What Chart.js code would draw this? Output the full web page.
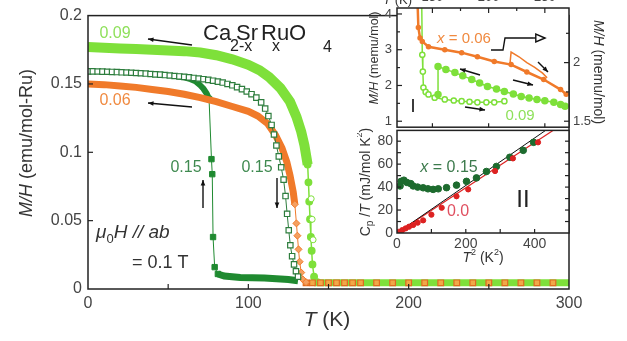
<!DOCTYPE html>
<html>
<head>
<meta charset="utf-8">
<script src="https://cdn.jsdelivr.net/npm/chart.js@4/dist/chart.umd.min.js"></script>
<style>
html, body { margin: 0; padding: 0; background: #fff; overflow: hidden; width: 627px; height: 341px; }
canvas { position: absolute; }
</style>
</head>
<body>
<canvas id="main" width="627" height="341" style="left:0;top:0"></canvas>
<canvas id="ins1" width="270" height="162" style="left:357px;top:-22px"></canvas>
<canvas id="ins2" width="270" height="155" style="left:357px;top:118px"></canvas>
<script>
// ---- main panel: M/H (emu/mol-Ru) vs T (K) ----
// x = 0.09
var t09 = [0,10,20,30,40,50,60,70,80,90,100,107,113,120,126,130,133,135,137];
var m09 = [0.177,0.1765,0.176,0.1755,0.175,0.1745,0.174,0.173,0.171,0.168,0.164,0.160,0.155,0.147,0.137,0.126,0.115,0.105,0.091];
var t09drop = [137,137.5,138,138.5,139,139.5,140,141,143];
var m09drop = [0.091,0.078,0.064,0.051,0.038,0.028,0.018,0.009,0.005];
var t09open = [139.2,139.8,140.4];
var m09open = [0.066,0.051,0.036];
var t09base = [141,150,175,200,225,250,275,300];
var m09base = [0.0045,0.0045,0.0045,0.0045,0.0045,0.0045,0.0045,0.0045];
// x = 0.06
var t06 = [0,10,20,30,40,50,60,70,80,90,100,106,112,117,121,124,126,128,129];
var m06 = [0.150,0.1495,0.1485,0.1475,0.146,0.1445,0.1425,0.140,0.137,0.1335,0.130,0.1265,0.121,0.1125,0.103,0.093,0.083,0.071,0.062];
var t06drop = [129,130,130.6,131.3,132,133,134,136];
var m06drop = [0.062,0.048,0.039,0.029,0.020,0.012,0.007,0.005];
var t06base = [136,140,145,150,155,160,165,170,180,190,200,210,220,230,240,250,260,270,280,290];
var m06base = [0.0045,0.0045,0.0045,0.0045,0.0045,0.0045,0.0045,0.0045,0.0045,0.0045,0.0045,0.0045,0.0045,0.0045,0.0045,0.0045,0.0045,0.0045,0.0045,0.0045];
// x = 0.15 warming (open squares)
var t15h = [0,3,6,9,12,15,18,21,24,27,30,33,36,39,42,45,48,51,54,57,60,63,66,69,72,75,78,81,84,87,90,93,96,99,102,105,108,110.5,112.5,114.5,116,117.5,119,120.5,122,123.2,124.2,125.2,126.2,127.3,128.5,129.7,131];
var m15h = [0.1592,0.1592,0.1591,0.159,0.1589,0.1588,0.1587,0.1585,0.1584,0.1582,0.158,0.1578,0.1576,0.1573,0.157,0.1568,0.1565,0.1562,0.1558,0.1555,0.1552,0.1548,0.1544,0.154,0.1535,0.153,0.1524,0.1517,0.151,0.150,0.149,0.1477,0.1462,0.1445,0.1425,0.140,0.1365,0.132,0.1265,0.120,0.113,0.105,0.097,0.089,0.080,0.068,0.055,0.043,0.032,0.024,0.018,0.013,0.009];
// x = 0.15 cooling (filled squares)
var t15c = [56,60,64,67,70,72,74,75.5];
var m15c = [0.1555,0.1548,0.1535,0.152,0.149,0.1465,0.143,0.139];
var t15drop = [75.5,77,77.5,78,79,81];
var m15drop = [0.139,0.095,0.084,0.038,0.016,0.011];
var t15base = [81,85,95,110,125,131];
var m15base = [0.011,0.0095,0.0085,0.008,0.007,0.006];

// ---- inset I: M/H (memu/mol) vs T (K) ----
var tI06 = [136.5,137.5,139,141,146.5,161,176,190,205,220,234,249,264,269];
var mI06 = [2.6,2.3,2.21,2.18,2.135,2.11,2.085,2.05,2.01,1.983,1.92,1.856,1.77,1.73];
var tI06loop = [219,220,227,234,241,248,252];
var mI06loop = [1.99,2.09,2.05,2.0,1.96,1.91,1.87];
var tI09w = [140.5,141,141.5,142,144,146.5,152,161,169,176,183,190,198,205,214];
var mI09w = [4.3,2.86,2.39,1.94,1.82,1.75,1.66,1.61,1.58,1.56,1.545,1.53,1.53,1.53,1.56];
var tI09c = [155,155,162,170,177,185,192,199,207,214,222,229,236,243,250,258,264,268];
var mI09c = [1.75,2.53,2.45,2.36,2.27,2.17,2.07,1.97,1.9,1.83,1.76,1.69,1.65,1.61,1.57,1.53,1.47,1.42];

// ---- inset II: Cp/T (mJ/mol K^2) vs T^2 (K^2) ----
var t2x0 = [5,15,25,35,47,60,76,100,130,173,207,285,337,410];
var c0 = [1,2.5,4,5.5,7,9,11,16,22,32,38,54,65,79];
var t2x15 = [9,12,20,29,40,47,60,76,90,105,120,144,173,202,231,260,289,328,367,397];
var c15 = [41,45,46,44,43,41,40,39.4,38.5,38,38.5,39.5,41.7,45,48,53.6,58,66,72,79];
var fitT2 = [0,500];
var fitBlack = [0,103.5];
var fitRed = [0,98.5];

var LG = '#7ee03a', OR = '#f07a2a', DG = '#1f8a30', RED = '#dd2222';
var FAM = '"Liberation Sans", Arial, sans-serif';

function pts(xs, ys) { return xs.map(function (x, i) { return { x: x, y: ys[i] }; }); }
function ds(xs, ys, o) {
  return Object.assign({ data: pts(xs, ys), showLine: true, borderWidth: 1, pointRadius: 0, fill: false }, o);
}

// page offsets of each canvas, inward ticks and annotations (page pixels)
var off = { main: [0, 0], ins1: [357, -22], ins2: [357, 118] };
var inTicks = {
  main: [
    { ax: 'x', side: 'bottom', v: [50,100,150,200,250], len: 5 },
    { ax: 'y', side: 'left', v: [0.05,0.1,0.15], len: 5 }
  ],
  ins1: [
    { ax: 'x', side: 'top', v: [150,200,250], len: 5 },
    { ax: 'x', side: 'top', v: [175,225], len: 3 },
    { ax: 'x', side: 'bottom', v: [150,200,250], len: 4 },
    { ax: 'y', side: 'left', v: [1,2,3,4], len: 5 },
    { ax: 'y', side: 'left', v: [1.5,2.5,3.5], len: 3 },
    { ax: 'y2', side: 'right', v: [1.5,2], len: 5 },
    { ax: 'y2', side: 'right', v: [1.75,2.25], len: 3 }
  ],
  ins2: [
    { ax: 'x', side: 'bottom', v: [100,200,300,400], len: 4 },
    { ax: 'y', side: 'left', v: [10,20,30,40,50,60,70,80], len: 4 },
    { ax: 'y', side: 'right', v: [10,20,30,40,50,60,70,80], len: 4 }
  ]
};
var notes = {
  main: [
    { x: 27, y: 143, rot: -90, size: 18, base: 'middle', parts: [{ t: 'M/H', i: 1 }, { t: ' (emu/mol-Ru)' }] },
    { x: 327, y: 326, size: 21, parts: [{ t: 'T', i: 1 }, { t: ' (K)' }] },
    { x: 203, y: 40, align: 'left', size: 22, color: '#222', parts: [{ t: 'Ca' }] },
    { x: 230, y: 51, align: 'left', size: 16, color: '#222', parts: [{ t: '2-x' }] },
    { x: 236, y: 40, align: 'left', size: 22, color: '#222', parts: [{ t: 'Sr' }] },
    { x: 272, y: 51, align: 'left', size: 16, color: '#222', parts: [{ t: 'x' }] },
    { x: 261, y: 40, align: 'left', size: 22, color: '#222', parts: [{ t: 'RuO' }] },
    { x: 323, y: 52, align: 'left', size: 16, color: '#222', parts: [{ t: '4' }] },
    { x: 115, y: 38, size: 16, color: '#8ee05a', parts: [{ t: '0.09' }] },
    { x: 115, y: 105, size: 16, color: '#f08a40', parts: [{ t: '0.06' }] },
    { x: 186, y: 172, size: 16, color: '#3f8a50', parts: [{ t: '0.15' }] },
    { x: 257, y: 172, size: 16, color: '#3f8a50', parts: [{ t: '0.15' }] },
    { x: 96, y: 238, align: 'left', size: 19, parts: [{ t: '\u03bc', i: 1 }, { t: '0', sz: 13, dy: 5 }, { t: 'H // ab', i: 1 }] },
    { x: 132, y: 268, align: 'left', size: 18, parts: [{ t: '= 0.1 T' }] }
  ],
  ins1: [
    { x: 375, y: 58, rot: -90, size: 12.5, base: 'middle', parts: [{ t: 'M/H', i: 1 }, { t: ' (memu/mol)' }] },
    { x: 598, y: 72, rot: 90, size: 14, base: 'middle', parts: [{ t: 'M/H', i: 1 }, { t: ' (memu/mol)' }] },
    { x: 412, y: 4, align: 'right', size: 13, parts: [{ t: 'T', i: 1 }, { t: ' (K)' }] },
    { x: 464, y: 43, size: 15, color: '#f08a40', parts: [{ t: 'x', i: 1 }, { t: ' = 0.06' }] },
    { x: 520, y: 120, size: 15, color: '#8ee05a', parts: [{ t: '0.09' }] },
    { x: 413, y: 112, size: 18, color: '#111', parts: [{ t: 'I' }] }
  ],
  ins2: [
    { x: 366, y: 182, rot: -90, size: 14, base: 'middle', parts: [{ t: 'C' }, { t: 'p', sz: 10, dy: 4 }, { t: ' /' }, { t: 'T', i: 1 }, { t: ' (mJ/mol K' }, { t: '2', sz: 9, dy: -6 }, { t: ')' }] },
    { x: 483, y: 262, size: 14, parts: [{ t: 'T', i: 1 }, { t: '2', sz: 9, dy: -7 }, { t: ' (K' }, { t: '2', sz: 9, dy: -7 }, { t: ')' }] },
    { x: 449, y: 172, size: 16, color: '#3c7a4c', parts: [{ t: 'x', i: 1 }, { t: ' = 0.15' }] },
    { x: 458, y: 216, size: 16, color: '#e05060', parts: [{ t: '0.0' }] },
    { x: 523, y: 207, size: 24, color: '#222', parts: [{ t: 'II' }] }
  ]
};
var arrows = {
  main: [
    { a: [192,45,148,39] }, { a: [192,107,148,103] },
    { a: [203,208,203,180] }, { a: [277,178,277,208] }
  ],
  ins1: [
    { a: [480,75,460,69] }, { a: [513,80,533,85] },
    { a: [538,62,548,72] }, { a: [465,107,485,110] },
    { path: [[491,50],[503,50],[505,38],[533,38]], hollow: [533,38,545,38] }
  ],
  ins2: []
};

function drawRich(ctx, n) {
  var size = n.size || 14, w = 0;
  n.parts.forEach(function (p) {
    ctx.font = (p.i ? 'italic ' : '') + (p.sz || size) + 'px ' + FAM;
    p.w = ctx.measureText(p.t).width; w += p.w;
  });
  ctx.save();
  ctx.translate(n.x, n.y);
  if (n.rot) ctx.rotate(n.rot * Math.PI / 180);
  ctx.textBaseline = n.base || 'alphabetic';
  ctx.fillStyle = n.color || '#333';
  var x = n.align === 'left' ? 0 : (n.align === 'right' ? -w : -w / 2);
  n.parts.forEach(function (p) {
    ctx.font = (p.i ? 'italic ' : '') + (p.sz || size) + 'px ' + FAM;
    ctx.fillText(p.t, x, p.dy || 0); x += p.w;
  });
  ctx.restore();
}
function head(ctx, x1, y1, x2, y2, s, hollow) {
  var ang = Math.atan2(y2 - y1, x2 - x1);
  ctx.beginPath();
  ctx.moveTo(x2, y2);
  ctx.lineTo(x2 - s * Math.cos(ang - 0.4), y2 - s * Math.sin(ang - 0.4));
  ctx.lineTo(x2 - s * Math.cos(ang + 0.4), y2 - s * Math.sin(ang + 0.4));
  ctx.closePath();
  if (hollow) { ctx.fillStyle = '#fff'; ctx.fill(); ctx.stroke(); } else ctx.fill();
}

var deco = {
  id: 'deco',
  beforeDatasetsDraw: function (chart) {
    if (chart.canvas.id === 'main') return;
    var a = chart.chartArea, ctx = chart.ctx;
    ctx.save(); ctx.fillStyle = '#fff';
    ctx.fillRect(a.left, a.top, a.right - a.left, a.bottom - a.top);
    ctx.restore();
  },
  afterDraw: function (chart) {
    var id = chart.canvas.id, a = chart.chartArea, ctx = chart.ctx, o = off[id];
    ctx.save();
    ctx.strokeStyle = '#222'; ctx.lineWidth = 1.5;
    ctx.strokeRect(a.left, a.top, a.right - a.left, a.bottom - a.top);
    ctx.lineWidth = 1.2;
    inTicks[id].forEach(function (t) {
      var sc = chart.scales[t.ax];
      t.v.forEach(function (v) {
        var p = sc.getPixelForValue(v);
        ctx.beginPath();
        if (t.side === 'bottom') { ctx.moveTo(p, a.bottom); ctx.lineTo(p, a.bottom - t.len); }
        if (t.side === 'top') { ctx.moveTo(p, a.top); ctx.lineTo(p, a.top + t.len); }
        if (t.side === 'left') { ctx.moveTo(a.left, p); ctx.lineTo(a.left + t.len, p); }
        if (t.side === 'right') { ctx.moveTo(a.right, p); ctx.lineTo(a.right - t.len, p); }
        ctx.stroke();
      });
    });
    ctx.translate(-o[0], -o[1]);
    ctx.strokeStyle = '#111'; ctx.fillStyle = '#111'; ctx.lineWidth = 1.4;
    arrows[id].forEach(function (r) {
      if (r.a) {
        ctx.beginPath(); ctx.moveTo(r.a[0], r.a[1]); ctx.lineTo(r.a[2], r.a[3]); ctx.stroke();
        head(ctx, r.a[0], r.a[1], r.a[2], r.a[3], 6);
      }
      if (r.path) {
        ctx.beginPath();
        r.path.forEach(function (q, i) { if (i) ctx.lineTo(q[0], q[1]); else ctx.moveTo(q[0], q[1]); });
        ctx.stroke();
        ctx.beginPath(); ctx.moveTo(r.hollow[0], r.hollow[1]); ctx.lineTo(r.hollow[2], r.hollow[3]); ctx.stroke();
        head(ctx, r.hollow[0], r.hollow[1], r.hollow[2], r.hollow[3], 10, true);
      }
    });
    notes[id].forEach(function (n) { drawRich(ctx, n); });
    ctx.restore();
  }
};

function tickFont(s) { return { family: FAM, size: s }; }
function fmt(v) { return String(+v.toFixed(2)); }
function opts(extra) {
  return Object.assign({
    responsive: false, animation: false, events: [],
    plugins: { legend: { display: false }, tooltip: { enabled: false } }
  }, extra);
}
var noGrid = { display: false, drawTicks: false };

new Chart(document.getElementById('main'), {
  type: 'scatter', plugins: [deco],
  data: {
    datasets: [
      ds(t15h, m15h, { borderColor: '#2d7d3d', pointStyle: 'rect', pointRadius: 3.8, pointBorderWidth: 1.2, pointBorderColor: '#2d7d3d', pointBackgroundColor: '#fff', order: 1 }),
      ds(t06drop, m06drop, { borderColor: OR, pointStyle: 'rectRot', pointRadius: 3.5, pointBorderColor: OR, pointBackgroundColor: '#f5a060', order: 2 }),
      ds(t06base, m06base, { showLine: false, pointStyle: 'rect', pointRadius: 4, pointBorderWidth: 1.2, pointBorderColor: '#e06a20', pointBackgroundColor: '#f0a848', order: 2 }),
      ds(t06, m06, { borderColor: OR, borderWidth: 7, order: 3 }),
      ds(t15drop, m15drop, { borderColor: DG, pointStyle: 'rect', pointRadius: 3.8, pointBorderColor: DG, pointBackgroundColor: DG, order: 4 }),
      ds(t15c, m15c, { borderColor: DG, borderWidth: 6, order: 4 }),
      ds(t15base, m15base, { borderColor: DG, borderWidth: 7, order: 4 }),
      ds(t09open, m09open, { borderColor: LG, pointRadius: 3, pointBorderColor: LG, pointBackgroundColor: '#fff', showLine: false, order: 5 }),
      ds(t09drop, m09drop, { borderColor: LG, borderWidth: 1.5, pointRadius: 3.2, pointBorderColor: LG, pointBackgroundColor: LG, order: 6 }),
      ds(t09, m09, { borderColor: LG, borderWidth: 10, order: 7 }),
      ds(t09base, m09base, { borderColor: LG, borderWidth: 7, order: 8 })
    ]
  },
  options: opts({
    layout: { padding: { left: 0, top: 13, right: 58, bottom: 0 } },
    scales: {
      x: { min: 0, max: 300, afterFit: function (s) { s.height = 52; }, grid: noGrid, border: { display: false },
        ticks: { stepSize: 100, includeBounds: false, padding: 5, color: '#444', font: tickFont(16), maxRotation: 0 } },
      y: { min: 0, max: 0.2, afterFit: function (s) { s.width = 88; }, grid: noGrid, border: { display: false },
        ticks: { stepSize: 0.05, includeBounds: false, padding: 6, color: '#444', font: tickFont(16), callback: fmt } }
    }
  })
});

new Chart(document.getElementById('ins1'), {
  type: 'scatter', plugins: [deco],
  data: {
    datasets: [
      ds(tI06, mI06, { yAxisID: 'y2', borderColor: OR, borderWidth: 2.5, pointRadius: 1.5, pointBackgroundColor: OR, pointBorderColor: OR }),
      ds(tI06loop, mI06loop, { yAxisID: 'y2', borderColor: OR, borderWidth: 1.5 }),
      ds(tI09c, mI09c, { borderColor: LG, borderWidth: 1.5, pointRadius: 3, pointBackgroundColor: LG, pointBorderColor: LG }),
      ds(tI09w, mI09w, { borderColor: LG, borderWidth: 1.5, pointRadius: 2.6, pointBackgroundColor: '#fff', pointBorderColor: LG })
    ]
  },
  options: opts({
    layout: { padding: 0 },
    scales: {
      x: { position: 'top', min: 118.5, max: 271.5, afterFit: function (s) { s.height = 30; }, grid: noGrid, border: { display: false },
        ticks: { stepSize: 50, includeBounds: false, padding: 3, color: '#444', font: tickFont(13), maxRotation: 0 } },
      // spacer below the inset so the plot box keeps its size
      xb: { position: 'bottom', min: 118.5, max: 271.5, afterFit: function (s) { s.height = 12; }, grid: noGrid, border: { display: false },
        ticks: { display: false } },
      y: { position: 'left', min: 0.833, max: 4.167, afterFit: function (s) { s.width = 40; }, grid: noGrid, border: { display: false },
        ticks: { stepSize: 1, includeBounds: false, padding: 5, color: '#444', font: tickFont(13) } },
      y2: { position: 'right', min: 1.449, max: 2.466, afterFit: function (s) { s.width = 58; }, grid: noGrid, border: { display: false },
        ticks: { stepSize: 0.5, includeBounds: false, padding: 4, color: '#444', font: tickFont(13), callback: fmt } }
    }
  })
});

new Chart(document.getElementById('ins2'), {
  type: 'scatter', plugins: [deco],
  data: {
    datasets: [
      ds(t2x0, c0, { showLine: false, pointRadius: 2.6, pointBackgroundColor: RED, pointBorderColor: RED }),
      ds(t2x15, c15, { showLine: false, pointRadius: 3.3, pointBackgroundColor: '#1d6b2e', pointBorderColor: '#1d6b2e' }),
      ds(fitT2, fitBlack, { borderColor: '#111', borderWidth: 1 }),
      ds(fitT2, fitRed, { borderColor: RED, borderWidth: 1.2 })
    ]
  },
  options: opts({
    layout: { padding: { left: 0, top: 0, right: 58, bottom: 0 } },
    scales: {
      xt: { position: 'top', min: 0, max: 500, afterFit: function (s) { s.height = 10; }, grid: noGrid, border: { display: false },
        ticks: { display: false } },
      x: { min: 0, max: 500, afterFit: function (s) { s.height = 40; }, grid: noGrid, border: { display: false },
        ticks: { stepSize: 200, includeBounds: false, padding: 3, color: '#444', font: tickFont(14), maxRotation: 0 } },
      y: { min: 0, max: 89.4, afterFit: function (s) { s.width = 40; }, grid: noGrid, border: { display: false },
        ticks: { stepSize: 20, includeBounds: false, padding: 4, color: '#444', font: tickFont(14) } }
    }
  })
});
</script>
</body>
</html>
